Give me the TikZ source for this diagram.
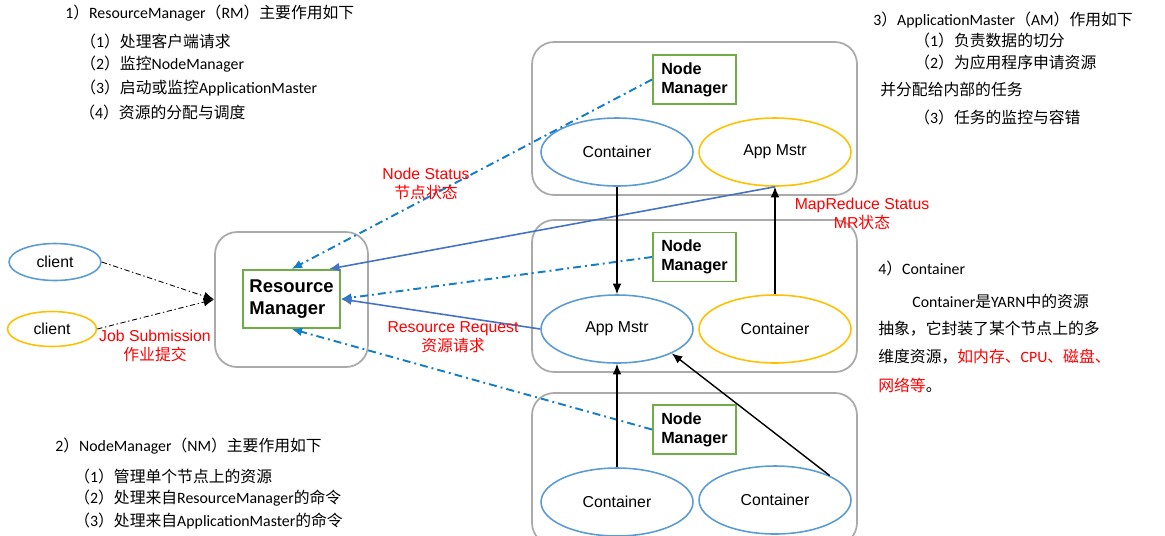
\documentclass[tikz,border=0pt]{standalone}
\usepackage{fontspec}
\setmainfont{Liberation Sans}
\newfontfamily\cjk{Noto Sans CJK SC}
\newfontfamily\calib{Carlito}
\usetikzlibrary{shapes.geometric,arrows.meta,positioning}
\definecolor{ellblue}{RGB}{91,155,213}
\definecolor{ellyellow}{RGB}{255,192,0}
\definecolor{boxgreen}{RGB}{112,173,71}
\definecolor{boxgray}{RGB}{170,170,170}
\definecolor{lineblue}{RGB}{68,114,196}
\definecolor{dotblue}{RGB}{20,125,200}

\begin{document}
\begin{tikzpicture}[x=0.02cm,y=-0.02cm,>={Latex[length=6pt,width=5pt]},
  host/.style={draw=boxgray,line width=1pt,rounded corners=0.44cm,minimum width=6.5cm,minimum height=3.06cm},
  proc/.style={ellipse,draw,line width=0.9pt,minimum width=3.04cm,minimum height=1.36cm,inner sep=0pt,font=\fontsize{9}{10.5}\selectfont},
  mgr/.style={draw=boxgreen,line width=1.1pt,align=left,font=\bfseries\fontsize{9.2}{10.8}\selectfont,minimum width=1.66cm,minimum height=0.98cm,inner sep=1pt},
  status/.style={draw=dotblue,line width=1.1pt,dash pattern=on 4.5pt off 2.3pt on 1.1pt off 2.3pt,->},
  req/.style={draw=lineblue,line width=0.9pt,->},
  ctl/.style={draw=black,line width=0.8pt,->},
  job/.style={draw=black,line width=0.5pt,dash pattern=on 3pt off 1.5pt on 0.8pt off 1.5pt,->},
  note/.style={text=red,align=center,font=\fontsize{9}{10.8}\selectfont},
  txt/.style={anchor=west,inner sep=0pt,font=\calib\fontsize{9}{10.8}\selectfont}]
\clip (0,0) rectangle (1165,535);

% hosts
\node[host,minimum width=3.06cm,minimum height=2.7cm] (rmbox) at (291.5,299.5) {};
\node[host] (host1) at (694.5,118.5) {};
\node[host,minimum height=3.04cm] (host2) at (694.5,296) {};
\node[host,minimum height=3.04cm] (host3) at (694.5,469) {};

% resource manager and node managers
\node[mgr,font=\bfseries\fontsize{10.5}{12.5}\selectfont,minimum width=1.94cm,minimum height=1.16cm] (rm) at (291.5,299) {Resource\\Manager};
\node[mgr] (nm1) at (694.5,79.5) {Node\\Manager};
\node[mgr] (nm2) at (694.5,257) {Node\\Manager};
\node[mgr] (nm3) at (694.5,429.5) {Node\\Manager};

% clients, containers, app masters
\node[proc,draw=ellblue,minimum width=1.84cm,minimum height=0.74cm] (client1) at (55,262) {client};
\node[proc,draw=ellyellow,minimum width=1.78cm,minimum height=0.7cm] (client2) at (52,329) {client};
\node[proc,draw=ellblue] (c1) at (617,152) {Container};
\node[proc,draw=ellyellow] (am1) at (775,152) {App Mstr};
\node[proc,draw=ellblue] (am2) at (617,329) {App Mstr};
\node[proc,draw=ellyellow] (c2) at (775,329) {Container};
\node[proc,draw=ellblue] (c3) at (617,502) {Container};
\node[proc,draw=ellblue] (c4) at (775,500) {Container};

% connectors
\draw[job] (client1.east) -- (rmbox.west);
\draw[job] (client2.east) -- (rmbox.west);
\draw[status] (nm1.west) -- (rm.north);
\draw[status] (nm2.west) -- (rm.east);
\draw[status] (nm3.west) -- (rm.south);
\draw[req] (am1.south) -- ([xshift=-0.24cm]rm.north east);
\draw[req] (am2.west) -- (rm.east);
\draw[ctl] (c1.south) -- (am2.north);
\draw[ctl] (c2.north) -- (am1.south);
\draw[ctl] (c3.north) -- (am2.south);
\draw[ctl] (c4.24) -- (am2.-24);

% labels
\node[note] (jobsub) at (155,346) {Job Submission\\{\cjk 作业提交}};
\node[note] (nstat) at (426,184) {Node Status\\{\cjk 节点状态}};
\node[note] (rreq) at (453,337) {Resource Request\\{\cjk 资源请求}};
\node[note] (mrstat) at (862,214) {MapReduce Status\\MR{\cjk 状态}};

% RM notes
\node[txt] (t1a) at (65,13) {1{\cjk ）}ResourceManager{\cjk （}RM{\cjk ）主要作用如下}};
\node[txt] (t1b) at (80,41) {{\cjk （}1{\cjk ）处理客户端请求}};
\node[txt] (t1c) at (80,64) {{\cjk （}2{\cjk ）监控}NodeManager};
\node[txt] (t1d) at (80,88) {{\cjk （}3{\cjk ）启动或监控}ApplicationMaster};
\node[txt] (t1e) at (79,112) {{\cjk （}4{\cjk ）资源的分配与调度}};

% NM notes
\node[txt] (t2a) at (55,446) {2{\cjk ）}NodeManager{\cjk （}NM{\cjk ）主要作用如下}};
\node[txt] (t2b) at (74,476) {{\cjk （}1{\cjk ）管理单个节点上的资源}};
\node[txt] (t2c) at (74,498) {{\cjk （}2{\cjk ）处理来自}ResourceManager{\cjk 的命令}};
\node[txt] (t2d) at (74,521) {{\cjk （}3{\cjk ）处理来自}ApplicationMaster{\cjk 的命令}};

% AM notes
\node[txt] (t3a) at (873,20) {3{\cjk ）}ApplicationMaster{\cjk （}AM{\cjk ）作用如下}};
\node[txt] (t3b) at (914,40) {{\cjk （}1{\cjk ）负责数据的切分}};
\node[txt] (t3c) at (914,62) {{\cjk （}2{\cjk ）为应用程序申请资源}};
\node[txt] (t3d) at (880,90) {{\cjk 并分配给内部的任务}};
\node[txt] (t3e) at (914,117) {{\cjk （}3{\cjk ）任务的监控与容错}};

% container notes
\node[txt] (t4a) at (878,268) {4{\cjk ）}Container};
\node[txt] (t4b) at (912,301) {Container{\cjk 是}YARN{\cjk 中的资源}};
\node[txt] (t4c) at (878,329) {{\cjk 抽象，它封装了某个节点上的多}};
\node[txt] (t4d) at (878,357) {{\cjk 维度资源，}\textcolor{red}{{\cjk 如内存、}CPU{\cjk 、磁盘、}}};
\node[txt] (t4e) at (878,385) {\textcolor{red}{\cjk 网络等}{\cjk 。}};
\end{tikzpicture}
\end{document}
